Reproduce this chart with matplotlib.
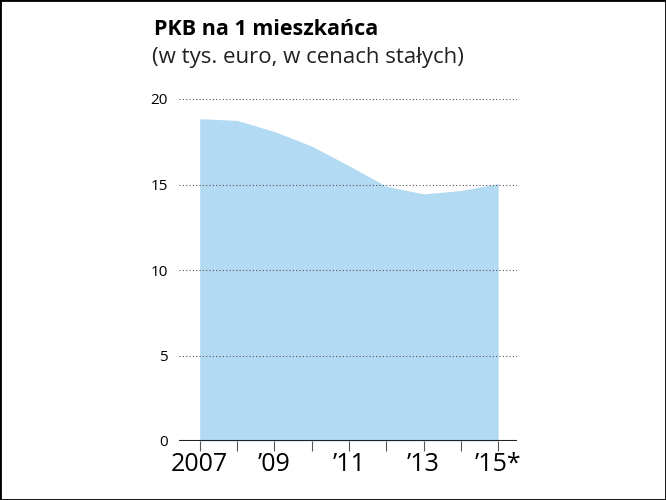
import matplotlib.pyplot as plt
import matplotlib.patches as mpatches

years = [2007, 2008, 2009, 2010, 2011, 2012, 2013, 2014, 2015]
pkb = [18.85, 18.75, 18.1, 17.25, 16.1, 14.9, 14.45, 14.65, 15.05]
yticks = [0, 5, 10, 15, 20]
xticks = [2007, 2009, 2011, 2013, 2015]
xlabels = ['2007', '\u201909', '\u201911', '\u201913', '\u201915*']

plt.rcParams['font.family'] = ['Open Sans', 'DejaVu Sans']

fig = plt.figure(figsize=(6.66, 5), dpi=100)
ax = fig.add_axes([0.269, 0.118, 0.507, 0.684])

ax.fill_between(years, pkb, 0, color='#b3daf3', linewidth=0)

ax.set_xlim(2006.45, 2015.5)
ax.set_ylim(0, 20)

for v in yticks[1:]:
    ax.axhline(v, color='#555555', linestyle=(0, (1, 2)), linewidth=0.8)
ax.axhline(0, color='#222222', linewidth=1.5)

for s in ax.spines.values():
    s.set_visible(False)

ax.set_yticks(yticks)
ax.set_yticklabels([str(v) for v in yticks], fontsize=11)
ax.tick_params(axis='y', length=0, pad=8)
ax.set_xticks(years)
ax.set_xticklabels(['' for _ in years])
ax.tick_params(axis='x', length=7, width=0.8, color='#555555', direction='out')
for x, lab in zip(xticks, xlabels):
    ax.text(x, -0.65, lab, ha='center', va='top', fontsize=18)

fig.text(0.231, 0.941, 'PKB na 1 mieszkańca', fontsize=15.5, fontweight='bold', ha='left', va='center')
fig.text(0.228, 0.886, '(w tys. euro, w cenach stałych)', fontsize=16, ha='left', va='center', color='#222222')

fig.patches.append(mpatches.Rectangle((0, 0), 1, 1, transform=fig.transFigure,
                                      fill=False, edgecolor='black', linewidth=2))

fig.savefig('out.png', dpi=100)
